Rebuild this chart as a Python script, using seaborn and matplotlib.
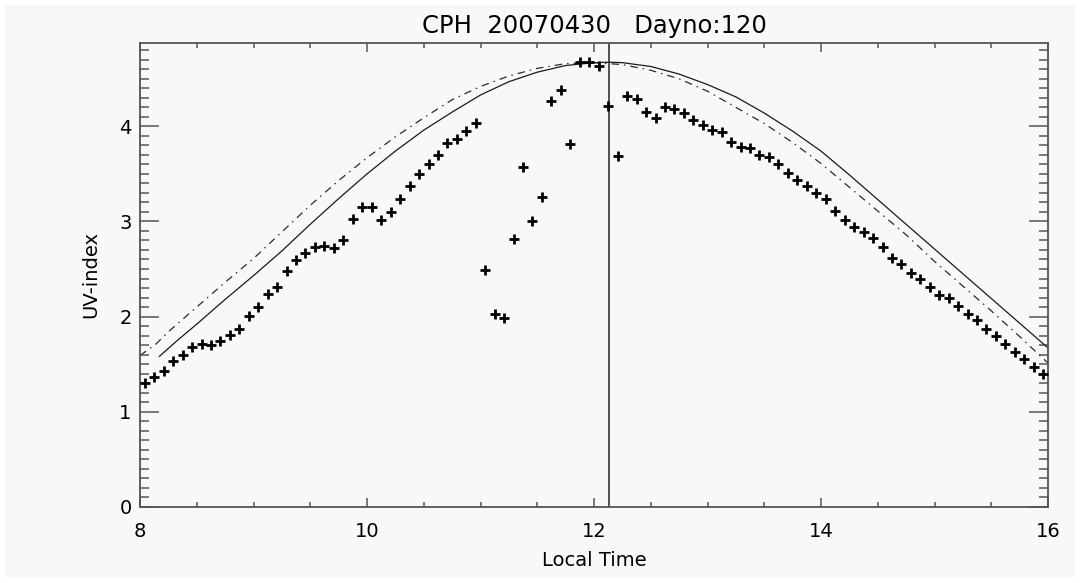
import matplotlib
matplotlib.use("Agg")
import matplotlib.pyplot as plt
from matplotlib.patches import Rectangle
from matplotlib.ticker import MultipleLocator
import seaborn as sns
import pandas as pd

# Measured UV-index, 5-minute samples (local time in decimal hours)
meas_time = [
    8.042, 8.125, 8.208, 8.292, 8.375, 8.458, 8.542, 8.625, 8.708, 8.792,
    8.875, 8.958, 9.042, 9.125, 9.208, 9.292, 9.375, 9.458, 9.542, 9.625,
    9.708, 9.792, 9.875, 9.958, 10.042, 10.125, 10.208, 10.292, 10.375, 10.458,
    10.542, 10.625, 10.708, 10.792, 10.875, 10.958, 11.042, 11.125, 11.208, 11.292,
    11.375, 11.458, 11.542, 11.625, 11.708, 11.792, 11.875, 11.958, 12.042, 12.125,
    12.208, 12.292, 12.375, 12.458, 12.542, 12.625, 12.708, 12.792, 12.875, 12.958,
    13.042, 13.125, 13.208, 13.292, 13.375, 13.458, 13.542, 13.625, 13.708, 13.792,
    13.875, 13.958, 14.042, 14.125, 14.208, 14.292, 14.375, 14.458, 14.542, 14.625,
    14.708, 14.792, 14.875, 14.958, 15.042, 15.125, 15.208, 15.292, 15.375, 15.458,
    15.542, 15.625, 15.708, 15.792, 15.875, 15.958,
]
meas_uvi = [
    1.30, 1.36, 1.43, 1.53, 1.60, 1.68, 1.71, 1.70, 1.74, 1.81,
    1.87, 2.01, 2.10, 2.24, 2.31, 2.48, 2.59, 2.67, 2.73, 2.74,
    2.72, 2.81, 3.03, 3.15, 3.15, 3.02, 3.10, 3.24, 3.37, 3.50,
    3.60, 3.70, 3.82, 3.87, 3.95, 4.04, 2.49, 2.03, 1.98, 2.82,
    3.57, 3.00, 3.26, 4.27, 4.38, 3.81, 4.68, 4.68, 4.63, 4.21,
    3.69, 4.32, 4.29, 4.15, 4.09, 4.20, 4.18, 4.14, 4.07, 4.01,
    3.96, 3.94, 3.84, 3.78, 3.77, 3.70, 3.68, 3.60, 3.51, 3.44,
    3.37, 3.30, 3.24, 3.11, 3.02, 2.94, 2.89, 2.83, 2.73, 2.62,
    2.55, 2.46, 2.39, 2.31, 2.23, 2.19, 2.11, 2.03, 1.96, 1.87,
    1.80, 1.71, 1.63, 1.55, 1.47, 1.40,
]

# Clear-sky model curve (solid)
model_time = [
    8.17, 8.33, 8.50, 8.75, 9.00, 9.25, 9.50, 9.75, 10.00, 10.25, 10.50,
    10.75, 11.00, 11.25, 11.50, 11.75, 12.00, 12.13, 12.25, 12.50, 12.75,
    13.00, 13.25, 13.50, 13.75, 14.00, 14.25, 14.50, 14.75, 15.00, 15.25,
    15.50, 15.75, 16.00,
]
model_uvi = [
    1.58, 1.75, 1.92, 2.18, 2.43, 2.69, 2.97, 3.24, 3.50, 3.74, 3.96,
    4.15, 4.33, 4.47, 4.57, 4.64, 4.67, 4.675, 4.67, 4.63, 4.55,
    4.44, 4.31, 4.14, 3.95, 3.74, 3.49, 3.23, 2.97, 2.71, 2.45,
    2.19, 1.93, 1.67,
]

# Forecast curve (dash-dot)
fcst_time = [
    8.00, 8.14, 8.25, 8.50, 8.75, 9.00, 9.25, 9.50, 9.75, 10.00,
    10.25, 10.50, 10.75, 11.00, 11.25, 11.50, 11.75, 12.00, 12.25, 12.50,
    12.75, 13.00, 13.25, 13.50, 13.75, 14.00, 14.25, 14.50, 14.75, 15.00,
    15.25, 15.50, 15.75, 16.00,
]
fcst_uvi = [
    1.59, 1.71, 1.84, 2.10, 2.36, 2.61, 2.89, 3.17, 3.43, 3.67,
    3.89, 4.09, 4.28, 4.42, 4.53, 4.61, 4.66, 4.67, 4.65, 4.59,
    4.50, 4.37, 4.20, 4.03, 3.83, 3.61, 3.36, 3.11, 2.86, 2.58,
    2.32, 2.06, 1.79, 1.51,
]

SOLAR_NOON = 12.13
x_ticks = [8, 10, 12, 14, 16]
y_ticks = [0, 1, 2, 3, 4]
title_text = "CPH  20070430   Dayno:120"

meas = pd.DataFrame({"time": meas_time, "uvi": meas_uvi})
model = pd.DataFrame({"time": model_time, "uvi": model_uvi})
fcst = pd.DataFrame({"time": fcst_time, "uvi": fcst_uvi})

sns.set_style("white")
plt.rcParams["font.family"] = ["DejaVu Sans"]
plt.rcParams["text.color"] = "black"
plt.rcParams["axes.labelcolor"] = "black"
plt.rcParams["xtick.labelcolor"] = "black"
plt.rcParams["ytick.labelcolor"] = "black"

bg = "#f8f8f8"
frame = "#555555"
fig = plt.figure(figsize=(10.8, 5.83), dpi=100, facecolor="white")
# light-grey canvas with a thin white margin
fig.patches.append(Rectangle((5 / 1080, 5 / 583), 1070 / 1080, 573 / 583,
                             transform=fig.transFigure, facecolor=bg,
                             edgecolor="none", zorder=-10))
ax = fig.add_axes([140 / 1080, 1 - 506.7 / 583, 908 / 1080, 464 / 583])
ax.set_zorder(5)
ax.set_facecolor(bg)

sns.lineplot(data=model, x="time", y="uvi", ax=ax, color="#1a1a1a",
             linewidth=0.9, sort=False, estimator=None)
sns.lineplot(data=fcst, x="time", y="uvi", ax=ax, color="#2a2a2a",
             linewidth=0.9, sort=False, estimator=None,
             linestyle=(0, (6, 4, 1.2, 4)))
sns.scatterplot(data=meas, x="time", y="uvi", ax=ax, marker="+",
                s=46, linewidth=2.0, color="black", zorder=5)
ax.axvline(SOLAR_NOON, color="#222222", linewidth=1.1)

ax.set_xlim(8, 16)
ax.set_ylim(0, 4.88)
ax.set_xticks(x_ticks)
ax.set_xticklabels([str(t) for t in x_ticks])
ax.set_yticks(y_ticks)
ax.set_yticklabels([str(t) for t in y_ticks])
ax.xaxis.set_minor_locator(MultipleLocator(0.5))
ax.yaxis.set_minor_locator(MultipleLocator(0.1))

for s in ax.spines.values():
    s.set_visible(True)
    s.set_color(frame)
    s.set_linewidth(1.3)

ax.tick_params(axis="x", which="major", direction="in", length=6.7, width=1.1,
               color=frame, top=True, bottom=True, labelsize=14, pad=11)
ax.tick_params(axis="x", which="minor", direction="in", length=3.6, width=1.1,
               color=frame, top=True, bottom=True)
ax.tick_params(axis="y", which="major", direction="in", length=13.4, width=1.1,
               color=frame, left=True, right=True, labelsize=14, pad=6)
ax.tick_params(axis="y", which="minor", direction="in", length=6.5, width=1.1,
               color=frame, left=True, right=True)

ax.set_xlabel("Local Time", fontsize=14, labelpad=7)
ax.set_ylabel("UV-index", fontsize=14, labelpad=14)
ax.set_title(title_text, fontsize=17.5, pad=7)

fig.savefig("out.png", dpi=100, facecolor=fig.get_facecolor())
